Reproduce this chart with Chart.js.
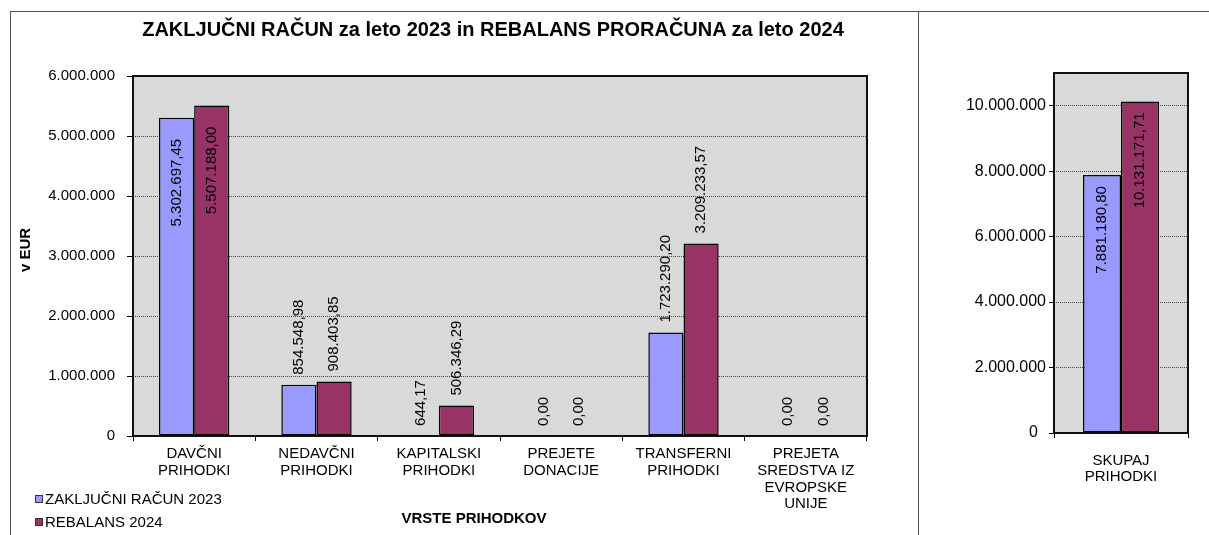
<!DOCTYPE html>
<html><head><meta charset="utf-8">
<script src="https://cdn.jsdelivr.net/npm/chart.js@4.4.1/dist/chart.umd.min.js"></script>
<style>
html,body{margin:0;padding:0;background:#fff;width:1209px;height:535px;overflow:hidden;font-family:"Liberation Sans",Arial,sans-serif;color:#000;}
.abs{position:absolute;}
.line{position:absolute;background:#555;}
</style></head><body>
<div class="abs" style="left:0;top:0;width:918px;height:535px"><canvas id="c1" width="918" height="535"></canvas></div>
<div class="abs" style="left:918px;top:0;width:291px;height:535px"><canvas id="c2" width="291" height="535"></canvas></div>

<div class="line" style="left:10px;top:11px;width:1199px;height:1px"></div>
<div class="line" style="left:10px;top:11px;width:1px;height:524px"></div>
<div class="line" style="left:918px;top:11px;width:1px;height:524px"></div>

<div class="abs" style="left:0;top:17px;width:986px;line-height:24px;text-align:center;font-weight:bold;font-size:20px;white-space:nowrap">ZAKLJUČNI RAČUN za leto 2023 in REBALANS PRORAČUNA za leto 2024</div>
<div class="abs" style="left:-25px;top:241px;width:100px;line-height:18px;text-align:center;font-weight:bold;font-size:15px;transform:rotate(-90deg);white-space:nowrap">v EUR</div>
<div class="abs" style="left:374px;top:509px;width:200px;line-height:18px;text-align:center;font-weight:bold;font-size:15px;white-space:nowrap">VRSTE PRIHODKOV</div>

<div class="abs" style="left:35px;top:495px;width:8px;height:8px;box-sizing:border-box;border:1px solid #333;background:#9999FF"></div>
<div class="abs" style="left:45px;top:490px;line-height:18px;font-size:15px;white-space:nowrap">ZAKLJUČNI RAČUN 2023</div>
<div class="abs" style="left:35px;top:518px;width:8px;height:8px;box-sizing:border-box;border:1px solid #333;background:#993366"></div>
<div class="abs" style="left:45px;top:513px;line-height:18px;font-size:15px;white-space:nowrap">REBALANS 2024</div>

<script>
// ---- data ----
const categories = [['DAVČNI','PRIHODKI'], ['NEDAVČNI','PRIHODKI'], ['KAPITALSKI','PRIHODKI'], ['PREJETE','DONACIJE'], ['TRANSFERNI','PRIHODKI'], ['PREJETA','SREDSTVA IZ','EVROPSKE','UNIJE']];
const zakljucni2023 = [5302697.45, 854548.98, 644.17, 0.00, 1723290.20, 0.00];
const rebalans2024 = [5507188.00, 908403.85, 506346.29, 0.00, 3209233.57, 0.00];
const totalCategories = [['SKUPAJ','PRIHODKI']];
const totalZakljucni2023 = [7881180.80];
const totalRebalans2024 = [10131171.71];
const seriesNames = ['ZAKLJUČNI RAČUN 2023', 'REBALANS 2024'];
const leftTicks = [0, 1000000, 2000000, 3000000, 4000000, 5000000, 6000000];
const rightTicks = [0, 2000000, 4000000, 6000000, 8000000, 10000000];

const FONT = '"Liberation Sans", Arial, sans-serif';
const BLUE = '#9999FF', MAROON = '#993366';

function groupInt(s){ return s.replace(/\B(?=(\d{3})+(?!\d))/g, '.'); }
function fmtInt(v){ return groupInt(String(Math.round(v))); }
function fmtDec(v){ const p = Number(v).toFixed(2).split('.'); return groupInt(p[0]) + ',' + p[1]; }

const plotFrame = {
  id: 'plotFrame',
  beforeDraw(chart){
    const a = chart.chartArea, ctx = chart.ctx;
    ctx.save(); ctx.fillStyle = '#D9D9D9';
    ctx.fillRect(a.left, a.top, a.right - a.left, a.bottom - a.top);
    ctx.restore();
  },
  beforeDatasetsDraw(chart){
    const a = chart.chartArea, ctx = chart.ctx;
    ctx.save(); ctx.strokeStyle = '#111'; ctx.lineWidth = 2;
    ctx.strokeRect(a.left, a.top, a.right - a.left, a.bottom - a.top);
    ctx.restore();
  }
};

const valueLabels = {
  id: 'valueLabels',
  afterDatasetsDraw(chart, args, opts){
    const ctx = chart.ctx, area = chart.chartArea;
    ctx.save();
    ctx.font = '15px ' + FONT;
    ctx.fillStyle = '#000';
    ctx.textBaseline = 'middle';
    chart.data.datasets.forEach((ds, di) => {
      const meta = chart.getDatasetMeta(di);
      meta.data.forEach((bar, i) => {
        const txt = fmtDec(ds.data[i]);
        const w = ctx.measureText(txt).width;
        const top = bar.y;
        const outside = opts.mode !== 'inside' && (top - opts.gap - w >= area.top);
        ctx.save();
        ctx.translate(bar.x, 0);
        ctx.rotate(-Math.PI / 2);
        if (outside) { ctx.textAlign = 'left'; ctx.fillText(txt, -(top - opts.gap), 0); }
        else { ctx.textAlign = 'right'; ctx.fillText(txt, -(top + opts.inset), 0); }
        ctx.restore();
      });
    });
    ctx.restore();
  }
};

function barDataset(label, data, color, catPct){
  return { label, data, backgroundColor: color, borderColor: '#000', borderWidth: 1.5,
           borderSkipped: false, categoryPercentage: catPct, barPercentage: 1.0 };
}

function makeChart(id, cats, d1, d2, cfg){
  return new Chart(document.getElementById(id), {
    type: 'bar',
    data: { labels: cats, datasets: [
      barDataset(seriesNames[0], d1, BLUE, cfg.catPct),
      barDataset(seriesNames[1], d2, MAROON, cfg.catPct)
    ]},
    plugins: [plotFrame, valueLabels],
    options: {
      responsive: false, animation: false, devicePixelRatio: 1,
      layout: { padding: cfg.padding },
      plugins: { legend: { display: false }, tooltip: { enabled: false }, title: { display: false },
                 valueLabels: cfg.labels },
      scales: {
        x: {
          grid: { display: true, drawOnChartArea: false, drawTicks: true, tickLength: 5,
                  color: '#000', tickColor: '#000', offset: true, lineWidth: 1 },
          border: { display: false },
          ticks: { color: '#000', font: { family: FONT, size: 15, lineHeight: cfg.xLineHeight },
                   padding: cfg.xPad, autoSkip: false, maxRotation: 0, minRotation: 0 },
          afterFit(s){ s.height = cfg.xHeight; }
        },
        y: {
          min: 0, max: cfg.max,
          afterBuildTicks(s){ s.ticks = cfg.ticks.map(v => ({ value: v })); },
          ticks: { color: '#000', font: { family: FONT, size: cfg.yFont }, padding: cfg.yPad,
                   callback: cfg.yFmt },
          grid: { color: '#444', lineWidth: 1, tickLength: cfg.yTick, tickColor: '#000',
                  tickBorderDash: [], borderDash: [1, 1] },
          border: { display: false, dash: [1, 1] },
          afterFit(s){ s.width = cfg.yWidth; }
        }
      }
    }
  });
}

makeChart('c1', categories, zakljucni2023, rebalans2024, {
  catPct: 0.575, padding: { left: 0, right: 51, top: 76, bottom: 0 },
  labels: { mode: 'auto', gap: 10, inset: 21 },
  xLineHeight: 1.13, xPad: 4, xHeight: 99,
  max: 6000000, ticks: leftTicks, yFont: 15, yPad: 12, yTick: 6, yWidth: 133,
  yFmt: v => fmtInt(v)
});

makeChart('c2', totalCategories, totalZakljucni2023, totalRebalans2024, {
  catPct: 0.567, padding: { left: 0, right: 21, top: 73, bottom: 0 },
  labels: { mode: 'inside', gap: 10, inset: 11 },
  xLineHeight: 1.07, xPad: 15, xHeight: 102,
  max: 11000000, ticks: rightTicks, yFont: 16, yPad: 3, yTick: 5, yWidth: 136,
  yFmt: v => (v === 0 ? '0\u2002' : fmtInt(v))
});
</script>
</body></html>
